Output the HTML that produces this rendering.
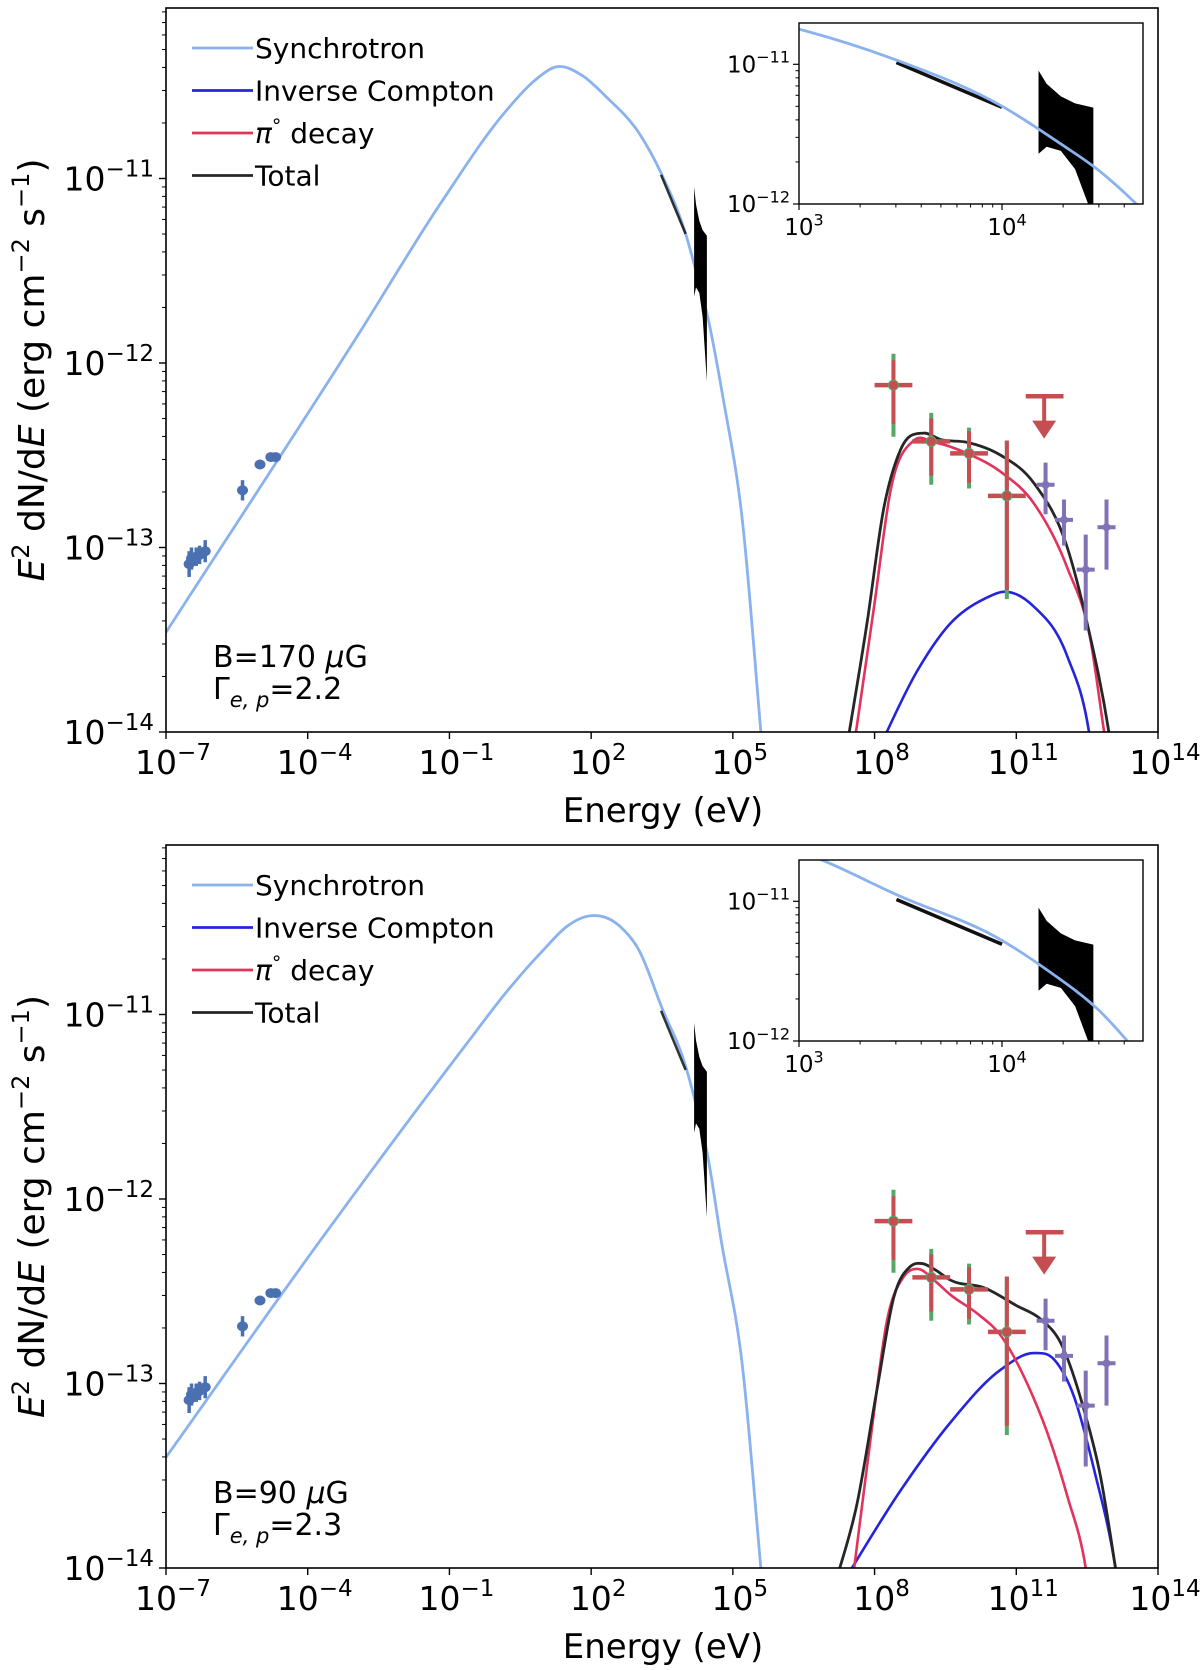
<!DOCTYPE html>
<html><head><meta charset="utf-8">
<style>
html,body{margin:0;padding:0;background:#fff;}
svg{display:block;font-family:"DejaVu Sans","Liberation Sans",sans-serif;}
</style></head>
<body>
<svg id="fig" width="1200" height="1670" viewBox="0 0 1200 1670" xmlns="http://www.w3.org/2000/svg"></svg>
<script>
// ---------- DATA (log10 E [eV], log10 E^2 dN/dE [erg cm^-2 s^-1]) ----------
const syncTopX = [-7, -2.89, -1.2, 0.21, 0.8, 1.28, 1.8, 2.33, 3.03, 3.48, 4.0, 4.3, 4.45, 4.80, 5.2, 5.61];
const syncTopY = [-13.46, -11.83, -11.14, -10.63, -10.47, -10.394, -10.44, -10.56, -10.76, -10.97, -11.30, -11.58, -11.73, -12.2, -12.85, -14.05];
const syncBotX = [-7, -3.72, -0.64, 0.2, 0.99, 1.5, 1.95, 2.6, 3.01, 3.5, 4.0, 4.23, 4.47, 4.75, 5.2, 5.61];
const syncBotY = [-13.40, -12.22, -11.16, -10.88, -10.65, -10.52, -10.466, -10.52, -10.65, -10.965, -11.28, -11.50, -11.77, -12.22, -12.9, -14.05];

const totTopX = [7.40, 7.84, 8.20, 8.55, 9.04, 9.40, 9.96, 10.67, 11.37, 12.08, 12.5, 12.96, 13.02];
const totTopY = [-14.1, -13.41, -12.78, -12.47, -12.38, -12.415, -12.43, -12.50, -12.65, -13.0, -13.41, -14.0, -14.1];
const pioTopX = [7.55, 7.99, 8.34, 8.83, 9.26, 9.96, 10.67, 11.37, 12.08, 12.57, 12.86, 12.92];
const pioTopY = [-14.1, -13.32, -12.69, -12.42, -12.43, -12.49, -12.59, -12.76, -13.11, -13.50, -14.0, -14.1];
const icTopX = [8.07, 8.9, 9.61, 10.31, 10.81, 11.37, 12.08, 12.54, 12.60];
const icTopY = [-14.1, -13.67, -13.41, -13.28, -13.24, -13.32, -13.59, -14.0, -14.1];

const totBotX = [7.15, 7.63, 8.06, 8.41, 8.76, 9.01, 9.26, 9.61, 10.31, 11.02, 11.51, 11.94, 12.43, 12.78, 13.10, 13.16];
const totBotY = [-14.1, -13.65, -13.02, -12.53, -12.365, -12.35, -12.38, -12.44, -12.48, -12.58, -12.65, -12.78, -13.14, -13.50, -14.0, -14.1];
const pioBotX = [7.52, 7.92, 8.27, 8.62, 8.94, 9.26, 9.61, 10.17, 10.67, 11.23, 11.73, 12.08, 12.47, 12.53];
const pioBotY = [-14.1, -13.29, -12.65, -12.42, -12.38, -12.44, -12.52, -12.62, -12.74, -13.0, -13.32, -13.61, -14.0, -14.1];
const icBotX = [7.28, 8.55, 9.61, 10.67, 11.37, 11.80, 12.22, 12.65, 13.10, 13.16];
const icBotY = [-14.1, -13.58, -13.21, -12.925, -12.835, -12.87, -13.07, -13.47, -14.0, -14.1];

// radio points
const radioX = [-6.51, -6.46, -6.36, -6.29, -6.17, -5.38, -5.01, -4.78, -4.68];
const radioY = [-13.09, -13.06, -13.05, -13.04, -13.02, -12.69, -12.55, -12.51, -12.51];
const radioErr = [0.07, 0.06, 0.05, 0.05, 0.06, 0.055, 0.02, 0.02, 0.02];

// X-ray segment and bowtie
const xraySegX = [3.48, 4.0];
const xraySegY = [-10.98, -11.30];
const bowX = [4.18, 4.22, 4.29, 4.36, 4.45];
const bowUp = [-11.045, -11.14, -11.23, -11.28, -11.31];
const bowLo = [-11.64, -11.59, -11.62, -11.75, -12.1];

// Fermi points
const fermiX = [8.40, 9.20, 10.0, 10.80];
const fermiY = [-12.12, -12.425, -12.49, -12.72];
const fermiXlo = [8.0, 8.8, 9.6, 10.4];
const fermiXhi = [8.8, 9.6, 10.4, 11.2];
const fermiGreenHi = [-11.95, -12.27, -12.35, -12.42];
const fermiGreenLo = [-12.40, -12.66, -12.68, -13.28];
const fermiRedHi = [-11.985, -12.30, -12.37, -12.42];
const fermiRedLo = [-12.33, -12.61, -12.65, -13.23];
const ulX = [11.59], ulY = [-12.18], ulXlo = [11.2], ulXhi = [12.0], ulTip = [-12.41];

// HESS points
const hessX = [11.62, 12.01, 12.47, 12.91];
const hessY = [-12.66, -12.85, -13.12, -12.89];
const hessHi = [-12.54, -12.74, -12.93, -12.74];
const hessLo = [-12.82, -12.99, -13.45, -13.12];

// axis ticks
const xTickExp = [-7, -4, -1, 2, 5, 8, 11, 14];
const yTickExp = [-14, -13, -12, -11];
const insetXTickExp = [3, 4];
const insetYTickExp = [-12, -11];
const legendLabels = ["Synchrotron", "Inverse Compton", "π° decay", "Total"];

// ---------- RENDER ----------
const NS = "http://www.w3.org/2000/svg";
const svg = document.getElementById('fig');
function mk(tag, attrs, parent) {
  const e = document.createElementNS(NS, tag);
  for (const k in attrs) e.setAttribute(k, attrs[k]);
  (parent || svg).appendChild(e);
  return e;
}
const C = {sync: "#8ab2ee", ic: "#2424dc", pio: "#e2335c", tot: "#262626", radio: "#4a70b2", fermi: "#c44e52", green: "#55a868", hess: "#8172b5"};

function splinePath(pts) {
  const n = pts.length;
  const m = [];
  for (let i = 0; i < n; i++) {
    if (i === 0) m.push((pts[1][1] - pts[0][1]) / (pts[1][0] - pts[0][0]));
    else if (i === n - 1) m.push((pts[n - 1][1] - pts[n - 2][1]) / (pts[n - 1][0] - pts[n - 2][0]));
    else {
      const h0 = pts[i][0] - pts[i - 1][0], h1 = pts[i + 1][0] - pts[i][0];
      const s0 = (pts[i][1] - pts[i - 1][1]) / h0, s1 = (pts[i + 1][1] - pts[i][1]) / h1;
      m.push((s0 * h1 + s1 * h0) / (h0 + h1));
    }
  }
  let d = "M" + pts[0][0].toFixed(2) + "," + pts[0][1].toFixed(2);
  for (let i = 0; i < n - 1; i++) {
    const h = pts[i + 1][0] - pts[i][0];
    const c1 = [pts[i][0] + h / 3, pts[i][1] + m[i] * h / 3];
    const c2 = [pts[i + 1][0] - h / 3, pts[i + 1][1] - m[i + 1] * h / 3];
    d += "C" + c1[0].toFixed(2) + "," + c1[1].toFixed(2) + " " + c2[0].toFixed(2) + "," + c2[1].toFixed(2) + " " + pts[i + 1][0].toFixed(2) + "," + pts[i + 1][1].toFixed(2);
  }
  return d;
}
function supText(parent, x, y, base, exp, size, anchor, name) {
  const t = mk('text', {x: x, y: y, 'font-size': size, 'text-anchor': anchor, fill: '#000'}, parent);
  
  
  const a = mk('tspan', {}, t); a.textContent = base;
  const b = mk('tspan', {'font-size': Math.round(size * 0.7), dy: -size * 0.42}, t); b.textContent = exp;
  return t;
}
function fmtExp(e) { return e < 0 ? "−" + (-e) : String(e); }

function panel(idx, top, bottom, syncX, syncY, totX, totY, pioX, pioY, icX, icY, annB, annG) {
  const L = 166, R = 1158, yMin = -14, dec = 184.5;
  const xs = v => L + (v + 7) * (R - L) / 21;
  const ys = v => bottom - (v - yMin) * dec;
  const g = mk('g', {});
  
  
  const cid = 'clip' + idx;
  const cp = mk('clipPath', {id: cid}, g);
  mk('rect', {x: L, y: top, width: R - L, height: bottom - top}, cp);
  const plot = mk('g', {'clip-path': 'url(#' + cid + ')'}, g);
  
  

  function curve(X, Y, col, w, name) {
    const p = mk('path', {d: splinePath(X.map((v, i) => [xs(v), ys(Y[i])])), fill: 'none', stroke: col, 'stroke-width': w, 'stroke-linejoin': 'round'}, plot);
    
    
  }
  curve(syncX, syncY, C.sync, 2.8, 'synchrotron-curve');
  curve(icX, icY, C.ic, 2.6, 'inverse-compton-curve');
  curve(pioX, pioY, C.pio, 2.6, 'pion-decay-curve');
  curve(totX, totY, C.tot, 2.8, 'total-curve');

  const seg = mk('line', {x1: xs(xraySegX[0]), y1: ys(xraySegY[0]), x2: xs(xraySegX[1]), y2: ys(xraySegY[1]), stroke: '#111', 'stroke-width': 2.5, opacity: 0.85}, plot);
  
  
  const bpts = bowX.map((v, i) => xs(v) + ',' + ys(bowUp[i])).concat(bowX.slice().reverse().map((v, i) => xs(v) + ',' + ys(bowLo[bowX.length - 1 - i])));
  const bow = mk('polygon', {points: bpts.join(' '), fill: '#000'}, plot);
  
  

  radioX.forEach((v, i) => {
    const gp = mk('g', {}, plot);
    
    
    mk('line', {x1: xs(v), x2: xs(v), y1: ys(radioY[i] + radioErr[i]), y2: ys(radioY[i] - radioErr[i]), stroke: C.radio, 'stroke-width': 3.5}, gp);
    mk('ellipse', {cx: xs(v), cy: ys(radioY[i]), rx: 5.5, ry: 5, fill: C.radio}, gp);
  });
  fermiX.forEach((v, i) => {
    const gp = mk('g', {}, plot);
    
    
    mk('line', {x1: xs(v), x2: xs(v), y1: ys(fermiGreenHi[i]), y2: ys(fermiGreenLo[i]), stroke: C.green, 'stroke-width': 4}, gp);
    mk('line', {x1: xs(v), x2: xs(v), y1: ys(fermiRedHi[i]), y2: ys(fermiRedLo[i]), stroke: C.fermi, 'stroke-width': 4}, gp);
    mk('line', {x1: xs(fermiXlo[i]), x2: xs(fermiXhi[i]), y1: ys(fermiY[i]), y2: ys(fermiY[i]), stroke: C.fermi, 'stroke-width': 4.5}, gp);
    mk('circle', {cx: xs(v), cy: ys(fermiY[i]), r: 5, fill: C.fermi, stroke: C.green, 'stroke-width': 1}, gp);
  });
  ulX.forEach((v, i) => {
    const gp = mk('g', {}, plot);
    
    
    mk('line', {x1: xs(ulXlo[i]), x2: xs(ulXhi[i]), y1: ys(ulY[i]), y2: ys(ulY[i]), stroke: C.fermi, 'stroke-width': 4.5}, gp);
    const tip = ys(ulTip[i]);
    mk('line', {x1: xs(v), x2: xs(v), y1: ys(ulY[i]), y2: tip - 16, stroke: C.fermi, 'stroke-width': 4}, gp);
    mk('polygon', {points: (xs(v) - 12) + ',' + (tip - 18) + ' ' + (xs(v) + 12) + ',' + (tip - 18) + ' ' + xs(v) + ',' + tip, fill: C.fermi}, gp);
  });
  hessX.forEach((v, i) => {
    const gp = mk('g', {}, plot);
    
    
    mk('line', {x1: xs(v), x2: xs(v), y1: ys(hessHi[i]), y2: ys(hessLo[i]), stroke: C.hess, 'stroke-width': 4}, gp);
    mk('line', {x1: xs(v) - 9, x2: xs(v) + 9, y1: ys(hessY[i]), y2: ys(hessY[i]), stroke: C.hess, 'stroke-width': 4}, gp);
    mk('circle', {cx: xs(v), cy: ys(hessY[i]), r: 4, fill: C.hess}, gp);
  });

  const fr = mk('rect', {x: L, y: top, width: R - L, height: bottom - top, fill: 'none', stroke: '#000', 'stroke-width': 1.6}, g);
  
  
  xTickExp.forEach(e => {
    const x = xs(e);
    mk('line', {x1: x, x2: x, y1: bottom, y2: bottom + 7, stroke: '#000', 'stroke-width': 1.4}, g);
    supText(g, x + 7, bottom + 42, "10", fmtExp(e), 33, 'middle', 'x-tick-label');
  });
  yTickExp.forEach(e => {
    const y = ys(e);
    mk('line', {x1: L - 7, x2: L, y1: y, y2: y, stroke: '#000', 'stroke-width': 1.4}, g);
    supText(g, L - 12, y + 12, "10", fmtExp(e), 33, 'end', 'y-tick-label');
    for (let m = 2; m <= 9; m++) {
      const ym = ys(e + Math.log10(m));
      if (ym < top) break;
      mk('line', {x1: L - 4, x2: L, y1: ym, y2: ym, stroke: '#000', 'stroke-width': 1}, g);
    }
  });
  const xt = mk('text', {x: 663, y: bottom + 90, 'font-size': 34, 'text-anchor': 'middle'}, g);
  
  
  xt.textContent = "Energy (eV)";
  const cy = (top + bottom) / 2;
  const yt = mk('text', {x: 0, y: 0, 'font-size': 36, 'text-anchor': 'middle', transform: 'translate(44,' + cy + ') rotate(-90)'}, g);
  
  
  const parts = [["E", {'font-style': 'italic'}], ["2", {'font-size': 24, dy: -15}], [" dN/d", {dy: 15}], ["E", {'font-style': 'italic'}], [" (erg cm", {}], ["−2", {'font-size': 24, dy: -15}], [" s", {dy: 15}], ["−1", {'font-size': 24, dy: -15}], [")", {dy: 15}]];
  parts.forEach(p => { const s = mk('tspan', p[1], yt); s.textContent = p[0]; });

  const lg = mk('g', {}, g);
  
  
  const lcols = [C.sync, C.ic, C.pio, C.tot];
  legendLabels.forEach((lab, i) => {
    const y = top + 40 + i * 42.5;
    const en = mk('g', {}, lg);
    
    
    mk('line', {x1: 192, x2: 253, y1: y, y2: y, stroke: lcols[i], 'stroke-width': 2.8}, en);
    const t = mk('text', {x: 255, y: y + 10, 'font-size': 28}, en);
    if (i === 2) {
      const a = mk('tspan', {'font-style': 'italic'}, t); a.textContent = "π";
      const b = mk('tspan', {'font-size': 19, dy: -11}, t); b.textContent = "°";
      const c = mk('tspan', {dy: 11}, t); c.textContent = "  decay";
    } else t.textContent = lab;
  });
  const a1 = mk('text', {x: 213, y: bottom - 65, 'font-size': 30}, g);
  
  
  const t1 = mk('tspan', {}, a1); t1.textContent = "B=" + annB + " ";
  const t2 = mk('tspan', {'font-style': 'italic'}, a1); t2.textContent = "μ";
  const t3 = mk('tspan', {}, a1); t3.textContent = "G";
  const a2 = mk('text', {x: 213, y: bottom - 33, 'font-size': 30}, g);
  
  
  const u1 = mk('tspan', {}, a2); u1.textContent = "Γ";
  const u2 = mk('tspan', {'font-style': 'italic', 'font-size': 21, dy: 8}, a2); u2.textContent = "e, p";
  const u3 = mk('tspan', {dy: -8}, a2); u3.textContent = "=" + annG;

  const IL = 799, IR = 1143, IT = top + 15, IB = top + 196;
  const ixs = v => IL + (v - 3) * 203;
  const iys = v => IB - (v + 12) * 139.7;
  const ig = mk('g', {}, g);
  
  
  const icid = 'iclip' + idx;
  const icp = mk('clipPath', {id: icid}, ig);
  mk('rect', {x: IL, y: IT, width: IR - IL, height: IB - IT}, icp);
  mk('rect', {x: IL, y: IT, width: IR - IL, height: IB - IT, fill: '#fff'}, ig);
  const ip = mk('g', {'clip-path': 'url(#' + icid + ')'}, ig);
  const ibp = bowX.map((v, i) => ixs(v) + ',' + iys(bowUp[i])).concat(bowX.slice().reverse().map((v, i) => ixs(v) + ',' + iys(bowLo[bowX.length - 1 - i])));
  const ib = mk('polygon', {points: ibp.join(' '), fill: '#000'}, ip);
  
  
  const is = mk('line', {x1: ixs(xraySegX[0]), y1: iys(xraySegY[0]) + 1, x2: ixs(xraySegX[1]), y2: iys(xraySegY[1]) + 1, stroke: '#111', 'stroke-width': 3.5}, ip);
  
  
  const isc = mk('path', {d: splinePath(syncX.map((v, i) => [ixs(v), iys(syncY[i])])), fill: 'none', stroke: C.sync, 'stroke-width': 2.8}, ip);
  
  
  mk('rect', {x: IL, y: IT, width: IR - IL, height: IB - IT, fill: 'none', stroke: '#000', 'stroke-width': 1.4}, ig);
  insetXTickExp.forEach(e => {
    mk('line', {x1: ixs(e), x2: ixs(e), y1: IB, y2: IB + 6, stroke: '#000', 'stroke-width': 1.2}, ig);
    supText(ig, ixs(e) + 5, IB + 31, "10", String(e), 23, 'middle', 'inset-x-tick-label');
    for (let m = 2; m <= 9; m++) {
      const xm = ixs(e + Math.log10(m));
      if (xm > IR) break;
      mk('line', {x1: xm, x2: xm, y1: IB, y2: IB + 3.5, stroke: '#000', 'stroke-width': 1}, ig);
    }
  });
  insetYTickExp.forEach(e => {
    mk('line', {x1: IL - 6, x2: IL, y1: iys(e), y2: iys(e), stroke: '#000', 'stroke-width': 1.2}, ig);
    supText(ig, IL - 9, iys(e) + 8, "10", fmtExp(e), 23, 'end', 'inset-y-tick-label');
    for (let m = 2; m <= 9; m++) {
      const ym = iys(e + Math.log10(m));
      if (ym < IT) break;
      mk('line', {x1: IL - 3.5, x2: IL, y1: ym, y2: ym, stroke: '#000', 'stroke-width': 1}, ig);
    }
  });
}

panel(0, 8, 732, syncTopX, syncTopY, totTopX, totTopY, pioTopX, pioTopY, icTopX, icTopY, "170", "2.2");
panel(1, 845, 1568, syncBotX, syncBotY, totBotX, totBotY, pioBotX, pioBotY, icBotX, icBotY, "90", "2.3");
</script>
</body></html>
